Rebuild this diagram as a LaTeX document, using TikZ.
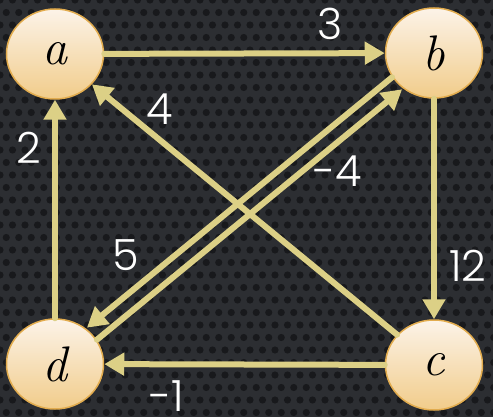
\documentclass[tikz,border=0pt]{standalone}
\usepackage{fontspec}
\setmainfont{Poppins Light}
\newfontfamily\letterfont{Latin Modern Roman}
\usetikzlibrary{arrows.meta,shapes.geometric}
\definecolor{bgbase}{RGB}{44,46,50}
\definecolor{bgdot}{RGB}{24,25,28}
\definecolor{edgecol}{RGB}{220,208,134}
\definecolor{nodetop}{RGB}{252,243,232}
\definecolor{nodebot}{RGB}{241,204,138}
\definecolor{nodeborder}{RGB}{226,172,78}
\tikzset{
  vertex/.style={ellipse, minimum width=97, minimum height=90, inner sep=0pt,
    draw=nodeborder, line width=1.5pt, top color=nodetop, bottom color=nodebot,
    font=\letterfont\itshape\fontsize{50}{50}\selectfont},
  edge/.style={draw=edgecol, line width=6pt, line cap=round,
    -{Triangle[length=20pt,width=22pt,fill=edgecol,line cap=butt]}},
  wlabel/.style={text=white, inner sep=0pt, font=\fontsize{43}{43}\selectfont}
}
\begin{document}
\begin{tikzpicture}[x=1pt,y=-1pt]
\fill[bgbase] (0,0) rectangle (493,417);
\useasboundingbox (0,0) rectangle (493,417);
\begin{scope}
\clip (0,0) rectangle (493,417);
\foreach \j in {0,...,34}{
  \foreach \i in {0,...,40}{
    \pgfmathsetmacro{\xx}{\i*12.5+mod(\j,2)*6.25}
    \pgfmathsetmacro{\yy}{\j*12.5}
    \fill[bgdot] (\xx,\yy) circle (3.6);
  }
}
\end{scope}
\node[vertex] (a) at (55,54) {a};
\node[vertex] (b) at (434,53) {b};
\node[vertex] (c) at (434,365) {c};
\node[vertex] (d) at (55,364) {d};

\draw[edge] (a) -- (b);
\draw[edge] (b) -- (c);
\draw[edge] (c) -- (d);
\draw[edge] (d) -- (a);
\draw[edge] (c) -- (a);
\draw[edge, transform canvas={shift={(-5,-6)}}] (b) -- (d);
\draw[edge, transform canvas={shift={(5,6)}}] (d) -- (b);

\node[wlabel] (l3) at (330,24) {3};
\node[wlabel] (l12) at (468,266) {12};
\node[wlabel] (lm1) at (167,396) {-1};
\node[wlabel] (lm4) at (338,171) {-4};
\node[wlabel] (l2) at (29,148) {2};
\node[wlabel] (l5) at (126,255) {5};
\node[wlabel] (l4) at (160,109) {4};
\end{tikzpicture}
\end{document}
